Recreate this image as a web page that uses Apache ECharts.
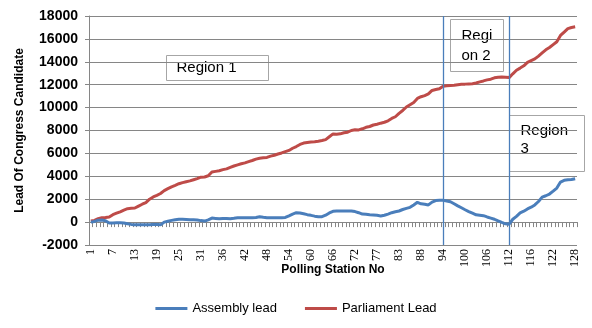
<!DOCTYPE html>
<html>
<head>
<meta charset="utf-8">
<script src="https://cdn.jsdelivr.net/npm/echarts@6/dist/echarts.min.js"></script>
<style>
html,body{margin:0;padding:0;background:#fff;}
#chart{width:592px;height:328px;}
</style>
</head>
<body>
<div id="chart"></div>
<script>
// Polling station categories (some stations have split booths, labels shown every 6th)
const stations = [
"1","2","3","4","5","6","7","8","9","10","11","12","13","14","15","16","17","18","19","20",
"21","22","23","24","25","26","27","28","29","30","31","32","33","33A","34","35","36","37","38","39",
"40","41","42","43","44","45","46","47","48","49","50","51","52","53","54","55","56","57","58","59",
"60","61","62","63","64","65","66","67","68","69","70","71","72","73","74","74A","75","76","77","78",
"79","80","81","82","83","84","85","85A","86","87","88","89","90","91","92","93","94","95","96","97",
"98","99","100","101","102","103","104","105","106","107","108","109","110","111","112","113","113A","114","114A","115",
"116","117","118","119","120","121","122","123","124","125","126","127","128"
];
const assemblyLead = [
0,60,170,180,120,-80,-70,-60,-60,-80,
-150,-200,-240,-240,-240,-240,-230,-210,-220,-240,
0,80,150,200,240,250,230,200,200,180,
130,90,200,350,320,290,320,310,290,330,
380,380,380,380,390,410,470,420,380,380,
380,380,380,410,550,700,820,800,730,650,
590,520,470,470,600,800,940,960,970,970,
970,970,920,820,700,680,640,620,590,540,
600,700,820,900,970,1100,1200,1290,1500,1730,
1600,1560,1500,1750,1880,1900,1910,1850,1780,1600,
1420,1250,1080,920,780,640,600,560,450,350,
250,100,-30,-150,-180,250,500,800,950,1150,
1300,1500,1800,2180,2300,2450,2700,2970,3500,3650,
3700,3720,3790
];
const parliamentLead = [
100,150,300,380,400,450,650,780,900,1050,
1170,1200,1230,1400,1560,1700,2000,2200,2340,2500,
2750,2920,3080,3210,3350,3450,3530,3600,3700,3800,
3920,3940,4050,4380,4430,4480,4580,4650,4780,4900,
5000,5100,5170,5280,5380,5500,5580,5620,5650,5760,
5840,5950,6040,6150,6260,6450,6600,6780,6900,6950,
6990,7010,7060,7120,7200,7450,7700,7680,7710,7800,
7850,8000,8060,8050,8150,8280,8350,8480,8550,8640,
8720,8850,9050,9200,9500,9750,10050,10250,10450,10800,
10950,11050,11200,11500,11580,11650,11860,11900,11940,11960,
12000,12040,12050,12070,12090,12150,12250,12330,12420,12480,
12600,12650,12680,12660,12620,12950,13260,13450,13650,13950,
14100,14250,14500,14780,15050,15250,15500,15750,16300,16600,
16900,17000,17060
];
const regionBoundaries = ["94","112"];
const seriesNames = ["Assembly lead","Parliament Lead"];

const sans = "'Liberation Sans', Arial, sans-serif";
const blue = '#4A7EBB';
const chart = echarts.init(document.getElementById('chart'), null, {renderer:'canvas'});
chart.setOption({
  animation:false,
  backgroundColor:'#ffffff',
  grid:{left:89,right:15,top:16,bottom:83,containLabel:false},
  legend:{
    data:seriesNames,
    left:'center', top:297,
    icon:'rect', itemWidth:32, itemHeight:3, itemGap:28,
    textStyle:{fontFamily:sans,fontSize:13,color:'#000'}
  },
  xAxis:{
    type:'category',
    data:stations,
    boundaryGap:true,
    name:'Polling Station No',
    nameLocation:'middle',
    nameGap:19,
    nameMoveOverlap:false,
    nameTextStyle:{fontFamily:sans,fontSize:12,fontWeight:'bold',color:'#000'},
    axisLine:{onZero:true,lineStyle:{color:'#868686',width:1}},
    axisTick:{show:true,interval:0,length:5,lineStyle:{color:'#868686'}},
    axisLabel:{interval:5,rotate:90,fontFamily:"'Liberation Serif','Times New Roman',serif",fontSize:12,color:'#000',margin:4},
    splitLine:{show:false}
  },
  yAxis:{
    type:'value',
    min:-2000,max:18000,interval:2000,
    name:'Lead Of Congress Candidate',
    nameLocation:'middle',
    nameGap:63,
    nameMoveOverlap:false,
    nameTextStyle:{fontFamily:sans,fontSize:12,fontWeight:'bold',color:'#000'},
    axisLine:{show:true,lineStyle:{color:'#868686'}},
    axisTick:{show:true,length:4,lineStyle:{color:'#868686'}},
    axisLabel:{fontFamily:sans,fontSize:14,fontWeight:'bold',color:'#000',margin:11,
      formatter:function(v){return String(v);}},
    splitLine:{lineStyle:{color:'#868686',width:1}}
  },
  series:[
    {
      name:seriesNames[0], type:'line', data:assemblyLead,
      symbol:'none', smooth:false,
      lineStyle:{color:blue,width:3}, itemStyle:{color:blue},
      markLine:{
        silent:true, symbol:['none','none'],
        label:{show:false},
        itemStyle:{color:blue},
        lineStyle:{color:blue,width:1.3,type:'solid',opacity:1},
        emphasis:{disabled:true},
        data:regionBoundaries.map(function(s){return {xAxis:s,lineStyle:{color:blue,width:1.3}};})
      },
      z:3
    },
    {
      name:seriesNames[1], type:'line', data:parliamentLead,
      symbol:'none', smooth:false,
      lineStyle:{color:'#BE4B48',width:3}, itemStyle:{color:'#BE4B48'},
      z:2
    }
  ],
  graphic:[
    {type:'group',left:166,top:55,children:[
      {type:'rect',shape:{x:0,y:0,width:102,height:25},style:{fill:'#fff',stroke:'#A6A6A6',lineWidth:1}},
      {type:'text',x:10,y:5,style:{text:'Region 1',font:"15px 'Liberation Sans', Arial, sans-serif",fill:'#000'}}
    ]},
    {type:'group',left:450,top:19,children:[
      {type:'rect',shape:{x:0,y:0,width:53,height:52},style:{fill:'#fff',stroke:'#A6A6A6',lineWidth:1}},
      {type:'text',x:11,y:6,style:{text:'Regi\non 2',font:"15px 'Liberation Sans', Arial, sans-serif",lineHeight:20,fill:'#000'}}
    ]},
    {type:'group',left:509,top:115,children:[
      {type:'rect',shape:{x:0,y:0,width:75,height:56},style:{fill:'#fff',stroke:'#A6A6A6',lineWidth:1}},
      {type:'text',x:11,y:6,style:{text:'Region\n3',font:"15px 'Liberation Sans', Arial, sans-serif",lineHeight:18,fill:'#000'}}
    ]}
  ]
});
</script>
</body>
</html>
